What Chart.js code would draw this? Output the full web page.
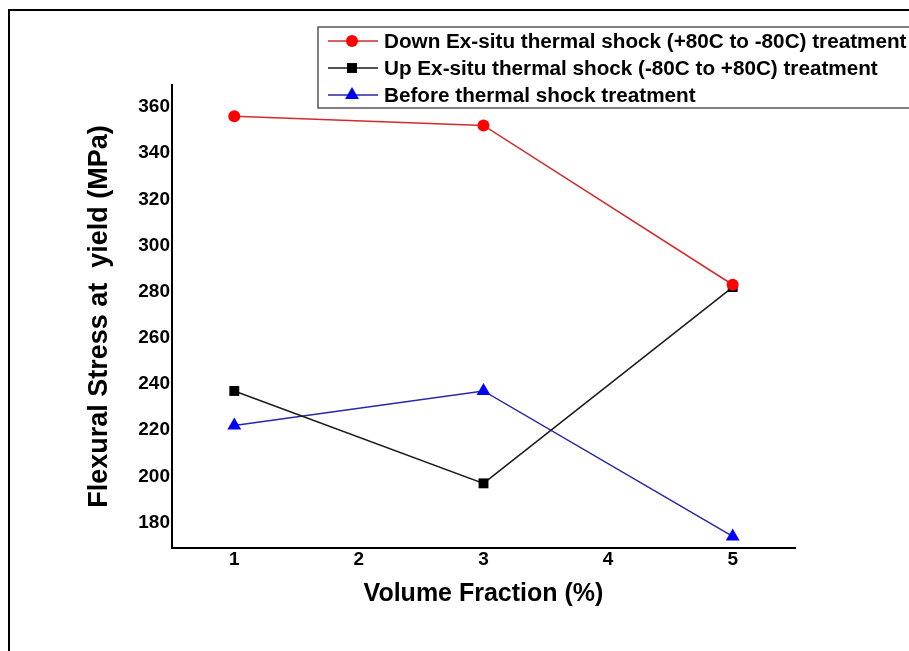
<!DOCTYPE html>
<html>
<head>
<meta charset="utf-8">
<script src="https://cdn.jsdelivr.net/npm/chart.js@4/dist/chart.umd.min.js"></script>
<style>
  html, body { margin: 0; padding: 0; background: #ffffff; }
  #wrap { width: 909px; height: 651px; position: relative; }
  canvas { display: block; }
</style>
</head>
<body>
<div id="wrap"><canvas id="c" width="909" height="651"></canvas></div>
<script>
// ---- data ----
const volumeFractions = [1, 3, 5];
const downShock   = [356, 352, 283];  // Down Ex-situ thermal shock (+80C to -80C)
const upShock     = [237, 197, 282];  // Up Ex-situ thermal shock (-80C to +80C)
const beforeShock = [222, 237, 174];  // Before thermal shock
const seriesLabels = [
  'Down Ex-situ thermal shock (+80C to -80C) treatment',
  'Up Ex-situ thermal shock (-80C to +80C) treatment',
  'Before thermal shock treatment'
];
const xTickValues = [1, 2, 3, 4, 5];
const yTickValues = [180, 200, 220, 240, 260, 280, 300, 320, 340, 360];
const xTitle = 'Volume Fraction (%)';
const yTitle = 'Flexural Stress at  yield (MPa)';

const FONT = "'Liberation Sans', Arial, Helvetica, sans-serif";

function toPoints(xs, ys) { return xs.map((x, i) => ({ x: x, y: ys[i] })); }

function drawMarker(ctx, style, x, y, r, color) {
  ctx.save();
  ctx.fillStyle = color;
  ctx.beginPath();
  if (style === 'circle') {
    ctx.arc(x, y, r, 0, Math.PI * 2);
  } else if (style === 'rect') {
    const s = r * Math.SQRT1_2;
    ctx.rect(x - s, y - s, 2 * s, 2 * s);
  } else if (style === 'triangle') {
    let a = 0;
    ctx.moveTo(x + Math.sin(a) * r, y - Math.cos(a) * r);
    a += 2 * Math.PI / 3;
    ctx.lineTo(x + Math.sin(a) * r, y - Math.cos(a) * r);
    a += 2 * Math.PI / 3;
    ctx.lineTo(x + Math.sin(a) * r, y - Math.cos(a) * r);
    ctx.closePath();
  }
  ctx.fill();
  ctx.restore();
}

const framePlugin = {
  id: 'frameAndLegend',
  beforeDraw(chart) {
    const ctx = chart.ctx;
    ctx.save();
    ctx.fillStyle = '#ffffff';
    ctx.fillRect(0, 0, chart.width, chart.height);
    ctx.restore();
  },
  afterDraw(chart) {
    const ctx = chart.ctx;
    // outer frame (only top and left edges visible)
    ctx.save();
    ctx.strokeStyle = '#000000';
    ctx.lineWidth = 2;
    ctx.beginPath();
    ctx.moveTo(9, 660);
    ctx.lineTo(9, 10);
    ctx.lineTo(920, 10);
    ctx.stroke();
    ctx.restore();

    // legend box
    const bx = 318, by = 27, bw = 620, bh = 81;
    ctx.save();
    ctx.fillStyle = '#ffffff';
    ctx.fillRect(bx, by, bw, bh);
    ctx.strokeStyle = '#555555';
    ctx.lineWidth = 1.5;
    ctx.strokeRect(bx, by, bw, bh);
    const rows = [41, 68, 95];
    chart.data.datasets.forEach((ds, i) => {
      const y = rows[i];
      ctx.strokeStyle = ds.borderColor;
      ctx.lineWidth = 1.6;
      ctx.beginPath();
      ctx.moveTo(328, y);
      ctx.lineTo(378, y);
      ctx.stroke();
      drawMarker(ctx, ds.pointStyle, 352, y, ds.pointRadius, ds.pointBackgroundColor);
      ctx.fillStyle = '#000000';
      ctx.font = 'bold 20.7px ' + FONT;
      ctx.textBaseline = 'middle';
      ctx.textAlign = 'left';
      ctx.fillText(ds.label, 384, y + 1);
    });
    ctx.restore();
  }
};

new Chart(document.getElementById('c'), {
  type: 'line',
  data: {
    datasets: [
      {
        label: seriesLabels[0],
        data: toPoints(volumeFractions, downShock),
        borderColor: '#d42a2a',
        borderWidth: 1.5,
        pointStyle: 'circle',
        pointRadius: 6,
        pointBackgroundColor: '#ff0000',
        pointBorderColor: '#ff0000',
        pointBorderWidth: 0
      },
      {
        label: seriesLabels[1],
        data: toPoints(volumeFractions, upShock),
        borderColor: '#1a1a1a',
        borderWidth: 1.5,
        pointStyle: 'rect',
        pointRadius: 7,
        pointBackgroundColor: '#000000',
        pointBorderColor: '#000000',
        pointBorderWidth: 0
      },
      {
        label: seriesLabels[2],
        data: toPoints(volumeFractions, beforeShock),
        borderColor: '#2626a8',
        borderWidth: 1.5,
        pointStyle: 'triangle',
        pointRadius: 8,
        pointBackgroundColor: '#0000ff',
        pointBorderColor: '#0000ff',
        pointBorderWidth: 0
      }
    ]
  },
  options: {
    responsive: false,
    animation: false,
    devicePixelRatio: 1,
    layout: { padding: { left: 83, right: 114, top: 85, bottom: 40 } },
    plugins: {
      legend: { display: false },
      tooltip: { enabled: false }
    },
    scales: {
      x: {
        type: 'linear',
        min: 0.5,
        max: 5.5,
        afterBuildTicks: (s) => { s.ticks = xTickValues.map(v => ({ value: v })); },
        afterFit: (s) => { s.height = 63; },
        grid: { display: false, drawTicks: false },
        border: { display: true, color: '#000000', width: 2 },
        ticks: {
          color: '#000000',
          padding: 0,
          font: { family: FONT, size: 19, weight: 'bold' },
          callback: (v) => String(v)
        },
        title: {
          display: true,
          text: xTitle,
          color: '#000000',
          padding: { top: 0, bottom: 2 },
          font: { family: FONT, size: 25, weight: 'bold' }
        }
      },
      y: {
        type: 'linear',
        min: 169,
        max: 369.5,
        afterBuildTicks: (s) => { s.ticks = yTickValues.map(v => ({ value: v })); },
        afterFit: (s) => { s.width = 89; },
        grid: { display: false, drawTicks: false },
        border: { display: true, color: '#000000', width: 2 },
        ticks: {
          color: '#000000',
          padding: 2,
          font: { family: FONT, size: 19, weight: 'bold' },
          callback: (v) => String(v)
        },
        title: {
          display: true,
          text: yTitle,
          color: '#000000',
          padding: { top: 0, bottom: 0 },
          font: { family: FONT, size: 27, weight: 'bold' }
        }
      }
    }
  },
  plugins: [framePlugin]
});
</script>
</body>
</html>
